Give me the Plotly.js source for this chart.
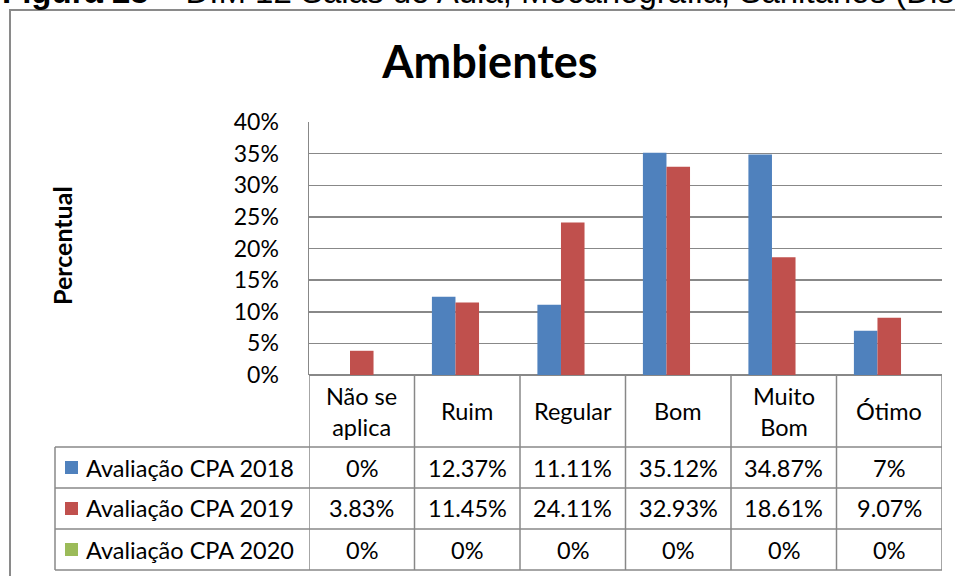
<!DOCTYPE html>
<html>
<head>
<meta charset="utf-8">
<script src="https://cdn.plot.ly/plotly-3.0.1.min.js"></script>
<style>
  html, body { margin: 0; padding: 0; background: #fff; }
  #chart { width: 955px; height: 576px; }
</style>
</head>
<body>
<div id="chart"></div>
<script>
// ---- data ----
var categories = ["Não se aplica", "Ruim", "Regular", "Bom", "Muito Bom", "Ótimo"];
var headerLabels = ["Não se<br>aplica", "Ruim", "Regular", "Bom", "Muito<br>Bom", "Ótimo"];
var seriesNames = ["Avaliação CPA 2018", "Avaliação CPA 2019", "Avaliação CPA 2020"];
var cpa2018 = [0, 12.37, 11.11, 35.12, 34.87, 7];
var cpa2019 = [3.83, 11.45, 24.11, 32.93, 18.61, 9.07];
var cpa2020 = [0, 0, 0, 0, 0, 0];
var yTicks = [0, 5, 10, 15, 20, 25, 30, 35, 40];

// ---- styling ----
var colors = ["#4F81BD", "#C0504D", "#9BBB59"];
var seriesValues = [cpa2018, cpa2019, cpa2020];
var FONT = "Lato, 'Open Sans', sans-serif";
var GRID = "#888888";
var TFS = 23.5;

// plot area in pixels
var L = 309, R = 942, T = 122, B = 375;
function px(X) { return (X - L) / (R - L); }
function py(Y) { return (B - Y) / (B - T); }

var traces = seriesValues.map(function (vals, i) {
  return {
    type: "bar",
    name: seriesNames[i],
    x: categories,
    y: vals,
    marker: { color: colors[i], line: { width: 0 } },
    hoverinfo: "skip"
  };
});

var shapes = [];
var annotations = [];

// outer frame
shapes.push({ type: "rect", xref: "paper", yref: "paper",
  x0: px(10), x1: px(975), y0: py(10), y1: py(600),
  line: { color: "#8a8a8a", width: 2 } });

// table geometry
var rowLines = [447, 488, 529, 570];
var tableLeft = 55;
rowLines.forEach(function (Y) {
  shapes.push({ type: "line", xref: "paper", yref: "paper",
    x0: px(tableLeft), x1: px(R), y0: py(Y), y1: py(Y),
    line: { color: GRID, width: 1.5 } });
});
for (var k = 0; k <= categories.length; k++) {
  shapes.push({ type: "line", xref: "x", yref: "paper",
    x0: k - 0.5, x1: k - 0.5, y0: py(B), y1: py(570),
    line: { color: GRID, width: 1.5 } });
}
shapes.push({ type: "line", xref: "paper", yref: "paper",
  x0: px(tableLeft), x1: px(tableLeft), y0: py(447), y1: py(570),
  line: { color: GRID, width: 1.5 } });

// header labels
headerLabels.forEach(function (lab, i) {
  annotations.push({ xref: "x", yref: "paper", x: i, y: py(411),
    text: lab, showarrow: false, xanchor: "center", yanchor: "middle",
    font: { family: FONT, size: TFS, color: "#000" } });
});

// rows
var rowCenters = [467.5, 508.5, 549.5];
seriesValues.forEach(function (vals, r) {
  var Yc = rowCenters[r];
  shapes.push({ type: "rect", xref: "paper", yref: "paper",
    x0: px(65), x1: px(78), y0: py(Yc - 6.5), y1: py(Yc + 6.5),
    fillcolor: colors[r], line: { width: 0 } });
  annotations.push({ xref: "paper", yref: "paper", x: px(84), y: py(Yc),
    text: seriesNames[r], showarrow: false, xanchor: "left", yanchor: "middle",
    font: { family: FONT, size: TFS, color: "#000" } });
  vals.forEach(function (v, i) {
    annotations.push({ xref: "x", yref: "paper", x: i, y: py(Yc),
      text: String(v) + "%", showarrow: false, xanchor: "center", yanchor: "middle",
      font: { family: FONT, size: TFS, color: "#000" } });
  });
});

// y axis title
annotations.push({ xref: "paper", yref: "paper", x: px(62), y: py(246),
  text: "<b>Percentual</b>", textangle: -90, showarrow: false,
  xanchor: "center", yanchor: "middle",
  font: { family: FONT, size: 25, color: "#000" } });

// top caption (cut off by page edge, as in the source)
annotations.push({ xref: "paper", yref: "paper", x: px(0), y: py(12),
  text: "<b>Figura 23</b> – DIM 12 Salas de Aula, Mecanografia, Sanitários (Disciplinas)",
  showarrow: false, xanchor: "left", yanchor: "bottom",
  font: { family: "'Liberation Sans', Arial, sans-serif", size: 33, color: "#000" } });

var layout = {
  width: 955, height: 576,
  margin: { l: L, r: 955 - R, t: T, b: 576 - B, pad: 0 },
  paper_bgcolor: "#fff", plot_bgcolor: "#fff",
  showlegend: false,
  barmode: "group", bargap: 0.33, bargroupgap: 0,
  title: { text: "<b>Ambientes</b>", x: 0.513, xanchor: "center", y: 1 - 62 / 576, yanchor: "middle",
    font: { family: FONT, size: 45, color: "#000" } },
  xaxis: { type: "category", range: [-0.5, 5.5], showticklabels: false,
    showgrid: false, zeroline: false, showline: false, ticks: "", fixedrange: true },
  yaxis: { range: [0, 40], tickvals: yTicks, ticktext: yTicks.map(function (t) { return t + "%"; }),
    showgrid: true, gridcolor: GRID, gridwidth: 1.5,
    showline: true, linecolor: GRID, linewidth: 1.5,
    zeroline: true, zerolinecolor: GRID, zerolinewidth: 1.5,
    ticks: "outside", ticklen: 24, tickcolor: "rgba(0,0,0,0)",
    tickfont: { family: FONT, size: 23, color: "#000" }, fixedrange: true },
  shapes: shapes,
  annotations: annotations
};

Plotly.newPlot("chart", traces, layout, { displayModeBar: false, staticPlot: true });
</script>
</body>
</html>
